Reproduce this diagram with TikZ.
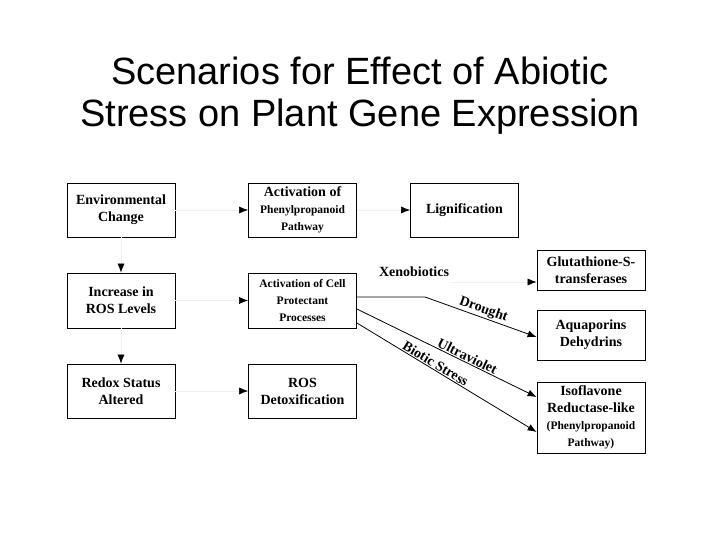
\documentclass[tikz,border=0pt]{standalone}
\usepackage{fontspec}
\setmainfont{Liberation Serif}
\newfontfamily\titlefont{Liberation Sans}
\usetikzlibrary{arrows.meta}
\newcommand{\sm}[1]{{\fontsize{11.5}{14}\selectfont #1}}
\tikzset{
    box/.style={draw, line width=0.8pt, align=center, font=\bfseries\fontsize{14}{17}\selectfont,
        minimum width=108pt, inner sep=2pt},
    stub/.style={gray!12, line width=0.6pt, -{Latex[black, length=9pt, width=7pt]}},
    link/.style={black, line width=0.8pt, -{Latex[length=9pt, width=7pt]}},
    lbl/.style={font=\bfseries\fontsize{14}{16}\selectfont, inner sep=1pt}
}
\begin{document}
\begin{tikzpicture}[x=1pt, y=-1pt]
    \useasboundingbox (0, 0) rectangle (720, 540);

    \node[font=\titlefont\fontsize{38}{42}\selectfont, align=center] (title) at (360, 96)
        {Scenarios for Effect of Abiotic\\Stress on Plant Gene Expression};

    % left column
    \node[box, minimum height=54pt] (env) at (121, 210) {Environmental\\Change};
    \node[box, minimum height=55pt] (ros) at (121, 300.5) {Increase in\\ROS Levels};
    \node[box, minimum height=54pt] (redox) at (121, 391) {Redox Status\\Altered};

    % middle column
    \node[box, minimum height=54pt] (phen) at (302.5, 210)
        {Activation of\\\sm{Phenylpropanoid}\\\sm{Pathway}};
    \node[box, minimum height=55pt] (prot) at (302.5, 300.5)
        {\sm{Activation of Cell}\\\sm{Protectant}\\\sm{Processes}};
    \node[box, minimum height=54pt] (detox) at (302.5, 391) {ROS\\Detoxification};

    % right column
    \node[box, minimum height=54pt] (lig) at (464.5, 210) {Lignification};
    \node[box, minimum height=40pt] (glut) at (591, 270) {Glutathione-S-\\transferases};
    \node[box, minimum height=50pt] (aqua) at (591, 335) {Aquaporins\\Dehydrins};
    \node[box, minimum height=71pt] (iso) at (591, 417.5)
        {Isoflavone\\Reductase-like\\\sm{(Phenylpropanoid}\\\sm{Pathway)}};

    \node[lbl] (xeno) at (414, 272) {Xenobiotics};

    % faint stubs with heads
    \draw[stub] (env.south) -- (ros.north);
    \draw[stub] (ros.south) -- (redox.north);
    \draw[stub] (env.east) -- (phen.west);
    \draw[stub] (ros.east) -- (prot.west);
    \draw[stub] (redox.east) -- (detox.west);
    \draw[stub] (phen.east) -- (lig.west);
    \draw[stub] (xeno.east) ++(0, 10) coordinate (xe) (xe) -- (glut.west |- 0, 282);

    % stress connectors
    \coordinate (bend) at (425, 297);
    \draw[link] (prot.east |- 0, 297) -- (bend) -- (aqua.west |- 0, 337)
        node[pos=0.5, above, sloped, lbl] {Drought};
    \draw[link] (prot.east |- 0, 309) -- (iso.west |- 0, 397)
        node[pos=0.6, above, sloped, lbl] {Ultraviolet};
    \draw[link] (prot.east |- 0, 323) -- (iso.west |- 0, 432)
        node[pos=0.42, above, sloped, lbl] {Biotic Stress};
\end{tikzpicture}
\end{document}
